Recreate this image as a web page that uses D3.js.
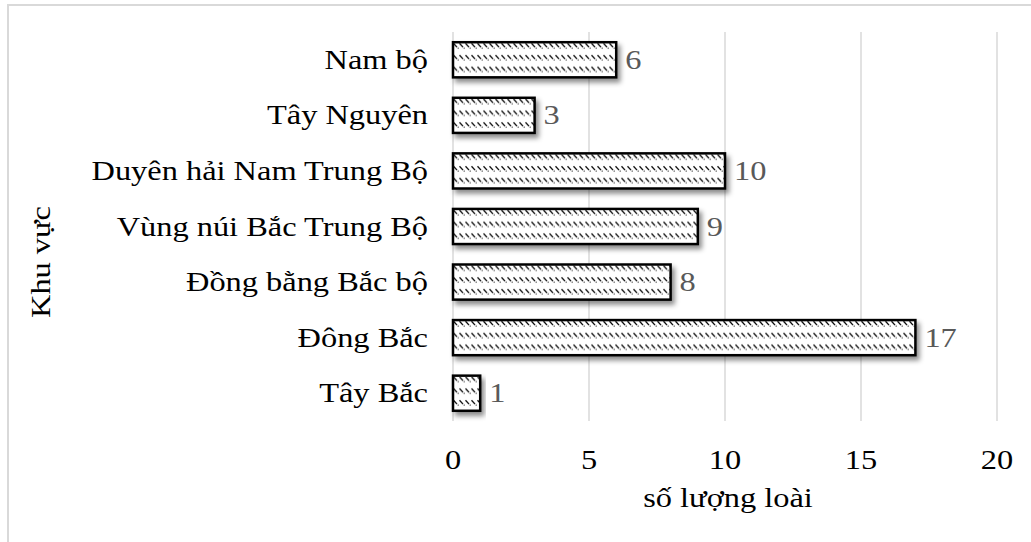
<!DOCTYPE html>
<html>
<head>
<meta charset="utf-8">
<script src="https://cdn.jsdelivr.net/npm/d3@7"></script>
<style>
  html, body { margin: 0; padding: 0; background: #fff; }
  svg { display: block; }
  text { font-family: "Liberation Serif", "Times New Roman", serif; }
</style>
</head>
<body>
<svg id="chart" width="1031" height="542"></svg>
<script>
const categories = ["Nam bộ", "Tây Nguyên", "Duyên hải Nam Trung Bộ", "Vùng núi Bắc Trung Bộ", "Đồng bằng Bắc bộ", "Đông Bắc", "Tây Bắc"];
const values = [6, 3, 10, 9, 8, 17, 1];
const xTicks = [0, 5, 10, 15, 20];
const xTitle = "số lượng loài";
const yTitle = "Khu vực";

const W = 1031, H = 542;
const plot = { left: 453, right: 997, top: 32, bottom: 421 };
const fontSize = 27, stretch = 1.2;

const svg = d3.select("#chart");
const defs = svg.append("defs");

// drop shadow
const f = defs.append("filter").attr("id", "shadow")
  .attr("x", "-10%").attr("y", "-30%").attr("width", "130%").attr("height", "170%");
f.append("feDropShadow").attr("dx", 3).attr("dy", 4).attr("stdDeviation", 2.5)
  .attr("flood-color", "#000").attr("flood-opacity", 0.45);

// frame
svg.append("rect").attr("x", 8).attr("y", 5).attr("width", W).attr("height", H)
  .attr("fill", "none").attr("stroke", "#d9d9d9").attr("stroke-width", 2);

const x = d3.scaleLinear().domain([0, 20]).range([plot.left, plot.right]);
const y = d3.scaleBand().domain(categories).range([plot.top, plot.bottom])
  .paddingInner(0.368).paddingOuter(0.184);

// gridlines
svg.append("g").selectAll("line").data(xTicks).join("line")
  .attr("x1", d => x(d)).attr("x2", d => x(d))
  .attr("y1", plot.top).attr("y2", plot.bottom)
  .attr("stroke", "#d9d9d9").attr("stroke-width", 1.5);

// patterns, one per bar so rows align to the bar top
const bh = y.bandwidth();
const data = categories.map((c, i) => ({ c, v: values[i], i }));
data.forEach(d => {
  const p = defs.append("pattern").attr("id", "hatch" + d.i)
    .attr("patternUnits", "userSpaceOnUse")
    .attr("x", x(0)).attr("y", y(d.c))
    .attr("width", 6).attr("height", bh / 3);
  p.append("rect").attr("width", 6).attr("height", bh / 3).attr("fill", "#fff");
  p.append("line").attr("x1", 0.5).attr("y1", 1.2).attr("x2", 4).attr("y2", 5)
    .attr("stroke", "#111").attr("stroke-width", 1.4);
  p.append("rect").attr("x", 4.6).attr("y", 5.4).attr("width", 1.2).attr("height", 1.2).attr("fill", "#444");
});

// bars
svg.append("g").selectAll("rect").data(data).join("rect")
  .attr("x", x(0)).attr("y", d => y(d.c))
  .attr("width", d => x(d.v) - x(0)).attr("height", bh)
  .attr("fill", d => `url(#hatch${d.i})`)
  .attr("stroke", "#000").attr("stroke-width", 2.5)
  .attr("filter", "url(#shadow)");

// value labels
svg.append("g").selectAll("text").data(data).join("text")
  .attr("transform", d => `translate(${x(d.v) + 9},${y(d.c) + bh / 2 + 9}) scale(${stretch},1)`)
  .attr("font-size", fontSize).attr("fill", "#595959")
  .text(d => d.v);

// category labels
svg.append("g").selectAll("text").data(categories).join("text")
  .attr("transform", d => `translate(428,${y(d) + bh / 2 + 9}) scale(${stretch},1)`)
  .attr("text-anchor", "end").attr("font-size", fontSize).attr("fill", "#000")
  .text(d => d);

// x tick labels
svg.append("g").selectAll("text").data(xTicks).join("text")
  .attr("transform", d => `translate(${x(d)},469) scale(${stretch},1)`)
  .attr("text-anchor", "middle").attr("font-size", fontSize).attr("fill", "#000")
  .text(d => d);

// axis titles
svg.append("text")
  .attr("transform", `translate(728,507) scale(${stretch},1)`)
  .attr("text-anchor", "middle").attr("font-size", fontSize).attr("fill", "#000")
  .text(xTitle);

svg.append("text")
  .attr("transform", `translate(50,262) rotate(-90) scale(${stretch},1)`)
  .attr("text-anchor", "middle").attr("font-size", fontSize).attr("fill", "#000")
  .text(yTitle);
</script>
</body>
</html>
